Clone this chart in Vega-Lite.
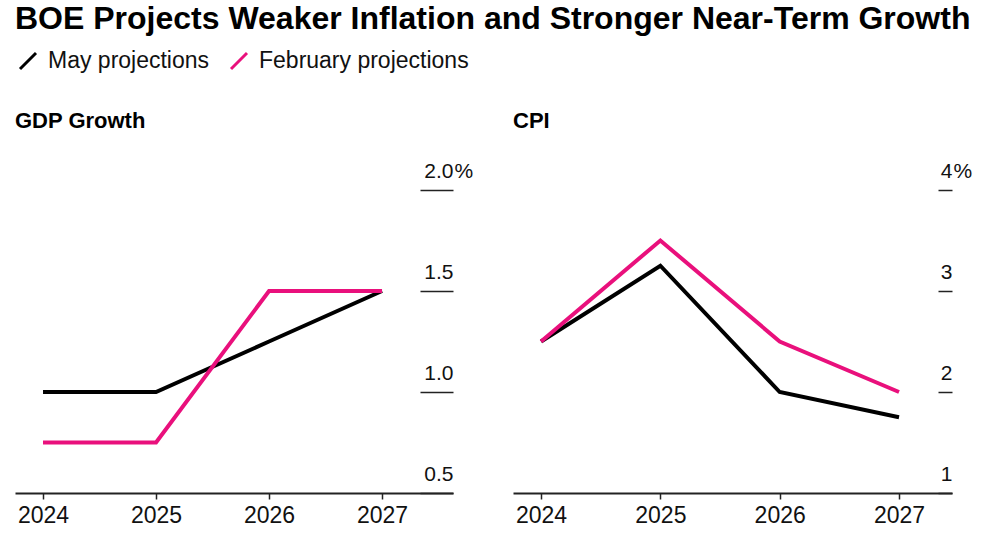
{
  "$schema": "https://vega.github.io/schema/vega-lite/v6.json",
  "background": "white",
  "padding": {"left": 15, "top": 3, "right": 5, "bottom": 5},
  "title": {"text": "BOE Projects Weaker Inflation and Stronger Near-Term Growth", "anchor": "start", "font": "Liberation Sans", "fontSize": 32, "fontWeight": "bold", "color": "#000", "offset": 12},
  "datasets": {
    "gdp": [
      {"series": "May projections", "year": 2024, "value": 1.0},
      {"series": "May projections", "year": 2025, "value": 1.0},
      {"series": "May projections", "year": 2026, "value": 1.25},
      {"series": "May projections", "year": 2027, "value": 1.5},
      {"series": "February projections", "year": 2024, "value": 0.75},
      {"series": "February projections", "year": 2025, "value": 0.75},
      {"series": "February projections", "year": 2026, "value": 1.5},
      {"series": "February projections", "year": 2027, "value": 1.5}
    ],
    "cpi": [
      {"series": "May projections", "year": 2024, "value": 2.5},
      {"series": "May projections", "year": 2025, "value": 3.25},
      {"series": "May projections", "year": 2026, "value": 2.0},
      {"series": "May projections", "year": 2027, "value": 1.75},
      {"series": "February projections", "year": 2024, "value": 2.5},
      {"series": "February projections", "year": 2025, "value": 3.5},
      {"series": "February projections", "year": 2026, "value": 2.5},
      {"series": "February projections", "year": 2027, "value": 2.0}
    ]
  },
  "config": {
    "font": "Liberation Sans",
    "view": {"stroke": null},
    "axis": {"grid": false, "title": null, "labelColor": "#111", "labelFont": "Liberation Sans", "labelFontSize": 21, "tickColor": "#222", "domainColor": "#222"},
    "legend": {"orient": "top", "direction": "horizontal", "title": null, "labelFontSize": 23, "labelColor": "#111", "labelLimit": 500, "symbolType": "M-0.7,0.7L0.7,-0.7", "symbolSize": 520, "symbolStrokeWidth": 3, "columnPadding": 15, "labelOffset": 7, "offset": 35}
  },
  "spacing": 40,
  "resolve": {"scale": {"color": "shared"}},
  "hconcat": [
    {
      "width": 438,
      "height": 303,
      "title": {"text": "GDP Growth", "anchor": "start", "fontSize": 22, "fontWeight": "bold", "color": "#000", "offset": 27},
      "data": {"name": "gdp"},
      "resolve": {"axis": {"y": "independent"}},
      "layer": [
        {
          "mark": {"type": "line", "strokeWidth": 4, "strokeJoin": "miter"},
          "encoding": {
            "x": {"field": "year", "type": "quantitative", "scale": {"domain": [2023.752, 2027.628], "nice": false, "zero": false},
              "axis": {"values": [2024, 2025, 2026, 2027], "format": "d", "labelFlush": false, "domainWidth": 2, "tickSize": 6, "tickWidth": 1.5, "labelPadding": 5, "labelFontSize": 23}},
            "y": {"field": "value", "type": "quantitative", "scale": {"domain": [0.5, 2.0], "nice": false, "zero": false},
              "axis": {"orient": "right", "values": [0.5, 1, 1.5, 2], "format": ".1f", "offset": -33, "tickSize": 33, "tickWidth": 1.5, "domain": false, "labelAlign": "right", "labelBaseline": "bottom", "labelPadding": 0, "labelOffset": -9, "labelFlush": false}},
            "color": {"field": "series", "type": "nominal", "scale": {"domain": ["May projections", "February projections"], "range": ["#000000", "#e9107c"]}}
          }
        },
        {
          "mark": {"type": "line", "opacity": 0},
          "encoding": {
            "x": {"field": "year", "type": "quantitative"},
            "y": {"field": "value", "type": "quantitative",
              "axis": {"orient": "right", "values": [2], "labelExpr": "'%'", "offset": -33, "tickSize": 33, "tickOpacity": 0, "domain": false, "labelAlign": "left", "labelBaseline": "bottom", "labelPadding": 1, "labelOffset": -9, "labelFlush": false}}
          }
        }
      ]
    },
    {
      "width": 439,
      "height": 303,
      "title": {"text": "CPI", "anchor": "start", "fontSize": 22, "fontWeight": "bold", "color": "#000", "offset": 27},
      "data": {"name": "cpi"},
      "resolve": {"axis": {"y": "independent"}},
      "layer": [
        {
          "mark": {"type": "line", "strokeWidth": 4, "strokeJoin": "miter"},
          "encoding": {
            "x": {"field": "year", "type": "quantitative", "scale": {"domain": [2023.765, 2027.444], "nice": false, "zero": false},
              "axis": {"values": [2024, 2025, 2026, 2027], "format": "d", "labelFlush": false, "domainWidth": 2, "tickSize": 6, "tickWidth": 1.5, "labelPadding": 5, "labelFontSize": 23}},
            "y": {"field": "value", "type": "quantitative", "scale": {"domain": [1, 4], "nice": false, "zero": false},
              "axis": {"orient": "right", "values": [1, 2, 3, 4], "format": "d", "offset": -14, "tickSize": 14, "tickWidth": 1.5, "domain": false, "labelAlign": "right", "labelBaseline": "bottom", "labelPadding": 0, "labelOffset": -9, "labelFlush": false}},
            "color": {"field": "series", "type": "nominal", "scale": {"domain": ["May projections", "February projections"], "range": ["#000000", "#e9107c"]}}
          }
        },
        {
          "mark": {"type": "line", "opacity": 0},
          "encoding": {
            "x": {"field": "year", "type": "quantitative"},
            "y": {"field": "value", "type": "quantitative",
              "axis": {"orient": "right", "values": [4], "labelExpr": "'%'", "offset": -14, "tickSize": 14, "tickOpacity": 0, "domain": false, "labelAlign": "left", "labelBaseline": "bottom", "labelPadding": 1, "labelOffset": -9, "labelFlush": false}}
          }
        }
      ]
    }
  ]
}
